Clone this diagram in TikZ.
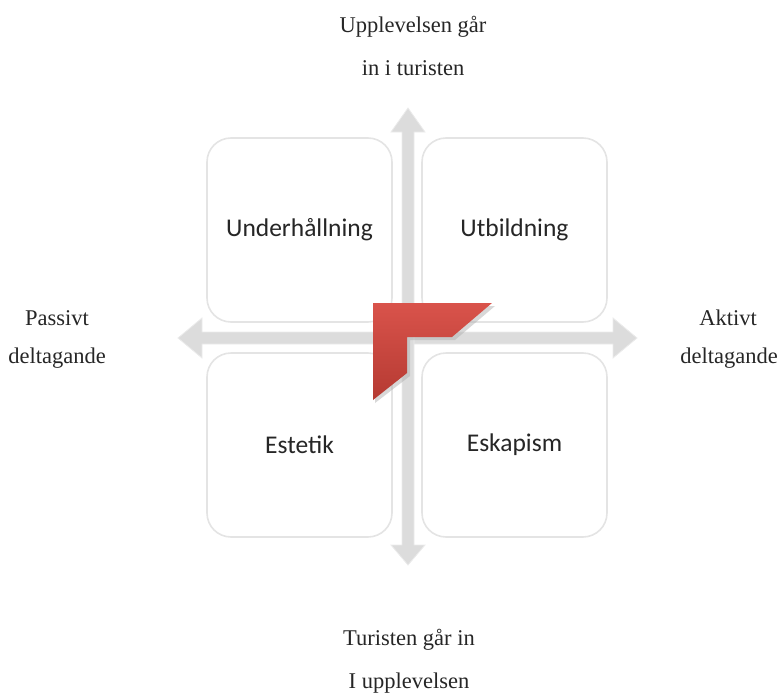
\documentclass[tikz,border=0pt]{standalone}
\usepackage{fontspec}
\setmainfont{Liberation Serif}
\newfontfamily\boxfont{Carlito}
\definecolor{arrowgray}{HTML}{DCDCDC}
\definecolor{arrowedge}{HTML}{EBEBEB}
\definecolor{boxedge}{HTML}{E4E4E4}
\definecolor{redtop}{HTML}{D9534B}
\definecolor{redbot}{HTML}{B53A32}
\tikzset{
  quad/.style={draw=boxedge, line width=1.6pt, fill=white, rounded corners=24pt,
    minimum width=185pt, minimum height=184pt, inner sep=0pt},
  quadtext/.style={font=\boxfont\fontsize{25.5}{30}\selectfont, text=black!85, inner sep=0pt},
  axislabel/.style={font=\fontsize{22.5}{26}\selectfont, text=black!85, inner sep=0pt},
  axisarrow/.style={fill=arrowgray, draw=arrowedge, line width=0.8pt, line join=miter},
}
\begin{document}
\begin{tikzpicture}[x=1pt,y=-1pt]
\useasboundingbox (0,0) rectangle (779,693);
% axes
\draw[axisarrow] (178,338) -- (202,318) -- (202,332) -- (613,332) -- (613,318) -- (637,338)
  -- (613,358) -- (613,344) -- (202,344) -- (202,358) -- cycle;
\draw[axisarrow] (408,108) -- (425,132) -- (414,132) -- (414,545) -- (425,545) -- (408,565)
  -- (391,545) -- (402,545) -- (402,132) -- (391,132) -- cycle;
% quadrants
\node[quad] (q1) at (299.5,230) {};
\node[quad] (q2) at (514.5,230) {};
\node[quad] (q3) at (299.5,445) {};
\node[quad] (q4) at (514.5,445) {};
\foreach \n/\t in {q1/Underhållning, q2/Utbildning, q3/Estetik, q4/Eskapism}{
  \node[quadtext] (\n t) at (\n.center) {\t};
}
% red corner
\fill[black!30, opacity=0.5] (375,306) -- (495,306) -- (455,340) -- (410,340) -- (410,376) -- (375,403) -- cycle;
\shade[top color=redtop, bottom color=redbot] (373,303) -- (492,303) -- (452,337) -- (407,337)
  -- (407,373) -- (373,400) -- cycle;
% labels
\node[axislabel] (top1) at (413,27) {Upplevelsen går};
\node[axislabel] (top2) at (413,68) {in i turisten};
\node[axislabel] (bot1) at (409,640) {Turisten går in};
\node[axislabel] (bot2) at (409,683) {I upplevelsen};
\node[axislabel] (l1) at (57,318) {Passivt};
\node[axislabel] (l2) at (57,358) {deltagande};
\node[axislabel] (r1) at (728,318) {Aktivt};
\node[axislabel] (r2) at (729,358) {deltagande};
\end{tikzpicture}
\end{document}
